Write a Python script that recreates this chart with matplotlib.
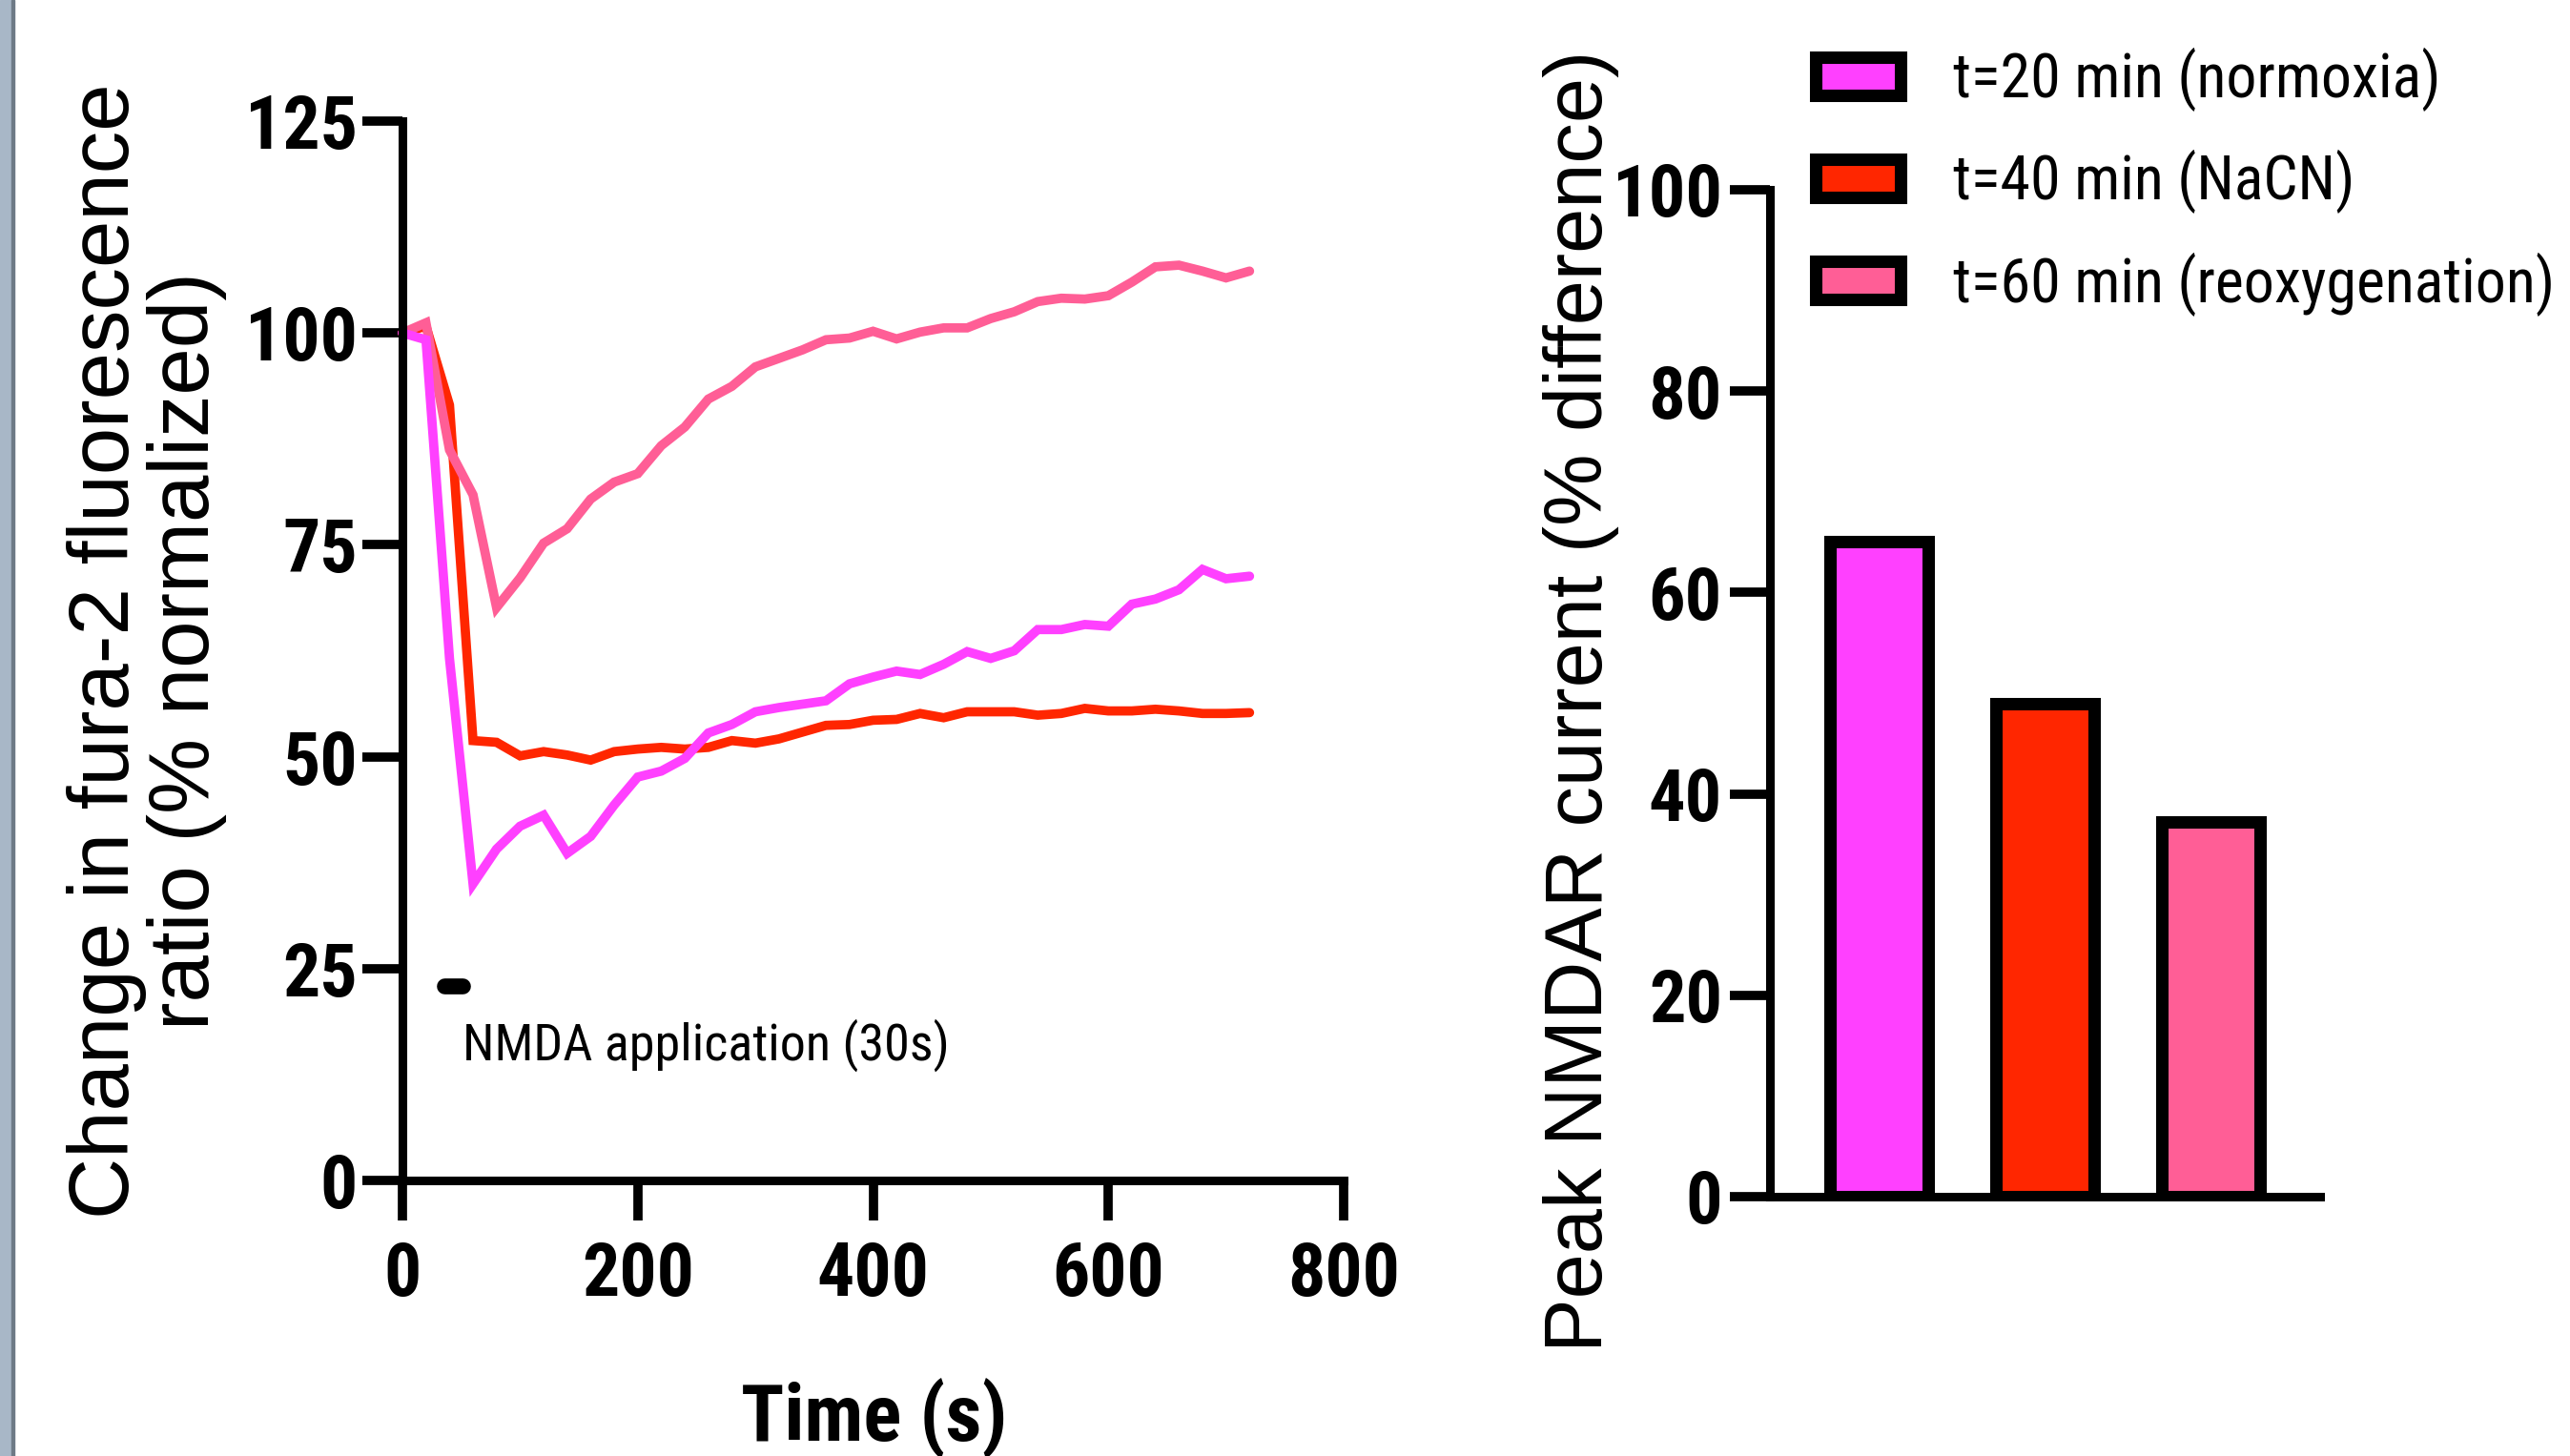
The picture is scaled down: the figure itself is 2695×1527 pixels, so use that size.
import matplotlib
matplotlib.use("Agg")
import matplotlib.pyplot as plt
from matplotlib import font_manager
from matplotlib.patches import Rectangle

# fura-2 ratio traces (% normalized), one sample every 20 s
time_s = [0, 20, 40, 60, 80, 100, 120, 140, 160, 180, 200, 220, 240,
          260, 280, 300, 320, 340, 360, 380, 400, 420, 440, 460, 480,
          500, 520, 540, 560, 580, 600, 620, 640, 660, 680, 700, 720]
normoxia = [100.0, 99.2, 61.6, 35.0, 39.1, 41.8, 43.1, 38.6, 40.6, 44.3, 47.6, 48.3, 49.8,
            52.8, 53.8, 55.3, 55.8, 56.2, 56.6, 58.6, 59.4, 60.1, 59.7, 60.9, 62.4,
            61.6, 62.5, 65.0, 65.0, 65.6, 65.4, 68.0, 68.6, 69.7, 72.1, 71.0, 71.3]
nacn = [100.0, 100.8, 91.5, 51.9, 51.7, 50.1, 50.6, 50.2, 49.6, 50.6, 50.9, 51.1, 50.9,
        51.1, 51.9, 51.6, 52.1, 52.9, 53.7, 53.8, 54.3, 54.4, 55.1, 54.6, 55.3,
        55.3, 55.3, 54.9, 55.1, 55.7, 55.4, 55.4, 55.6, 55.4, 55.1, 55.1, 55.2]
reoxy = [100.0, 101.2, 86.2, 80.9, 67.6, 71.1, 75.2, 76.9, 80.4, 82.4, 83.4, 86.7, 88.9,
         92.2, 93.7, 96.0, 97.0, 98.0, 99.2, 99.4, 100.2, 99.3, 100.1, 100.6, 100.6,
         101.7, 102.5, 103.7, 104.1, 104.0, 104.4, 106.0, 107.8, 108.0, 107.3, 106.5, 107.3]

# peak NMDAR current per condition
conditions = ["t=20 min (normoxia)", "t=40 min (NaCN)", "t=60 min (reoxygenation)"]
peak_current = [65.1, 49.0, 37.2]
colors = ["#FF40FF", "#FF2600", "#FF5E96"]

x_ticks = [0, 200, 400, 600, 800]
y_ticks_left = [0, 25, 50, 75, 100, 125]
y_ticks_right = [0, 20, 40, 60, 80, 100]

# condensed font for the horizontal texts
names = {f.name for f in font_manager.fontManager.ttflist}
narrow = "Roboto Condensed" if "Roboto Condensed" in names else "Liberation Sans"
regular = "Liberation Sans"
plt.rcParams["font.family"] = [narrow, "DejaVu Sans"]

W, H = 2695, 1527
fig = plt.figure(figsize=(W / 100, H / 100), dpi=100)

# grey window edge on the far left
fig.patches.append(Rectangle((0, 0), 12 / W, 1, transform=fig.transFigure,
                             color="#A8B7C7", zorder=0))
fig.patches.append(Rectangle((12 / W, 0), 3 / W, 1, transform=fig.transFigure,
                             color="#6E7A86", zorder=0))

# -----------------------------
# Left: fura-2 traces
# -----------------------------
ax1 = fig.add_axes([422 / W, 1 - 1238 / H, 987 / W, 1111 / H])
for y, c in [(nacn, colors[1]), (reoxy, colors[2]), (normoxia, colors[0])]:
    ax1.plot(time_s, y, color=c, lw=7, solid_capstyle="round",
             solid_joinstyle="miter", clip_on=False)

ax1.plot([36, 51], [23, 23], color="black", lw=12, solid_capstyle="round")
ax1.text(51, 14.2, "NMDA application (30s)", fontsize=39, va="baseline")

ax1.set_xlim(0, 800)
ax1.set_ylim(0, 125)
ax1.set_xticks(x_ticks)
ax1.set_xticklabels([str(v) for v in x_ticks], fontsize=56, fontweight="bold")
ax1.set_yticks(y_ticks_left)
ax1.set_yticklabels([str(v) for v in y_ticks_left], fontsize=56, fontweight="bold")
ax1.tick_params(direction="out", length=30, width=7)
ax1.tick_params(axis="x", pad=15)
ax1.tick_params(axis="y", pad=4)
for s in ["top", "right"]:
    ax1.spines[s].set_visible(False)
for s in ["left", "bottom"]:
    ax1.spines[s].set_linewidth(6.5)

ax1.set_xlabel("Time (s)", fontsize=60, fontweight="bold")
ax1.xaxis.set_label_coords(917 / W, 1 - 1444 / H, transform=fig.transFigure)
ax1.set_ylabel("Change in fura-2 fluorescence\nratio (% normalized)",
               fontsize=64, family=regular, linespacing=1.0)
ax1.yaxis.set_label_coords(238 / W, 1 - 683 / H, transform=fig.transFigure)

# -----------------------------
# Right: peak NMDAR current
# -----------------------------
ax2 = fig.add_axes([1856 / W, 1 - 1255 / H, 577 / W, 1056 / H])
bars = ax2.bar([1, 2, 3], peak_current, width=0.59, color=colors,
               edgecolor="black", linewidth=9.4)
ax2.set_xlim(0.34, 3.66)
ax2.set_ylim(0, 100)
ax2.set_xticks([])
ax2.set_yticks(y_ticks_right)
ax2.set_yticklabels([str(v) for v in y_ticks_right], fontsize=55, fontweight="bold")
ax2.tick_params(axis="y", direction="out", length=30, width=7, pad=6)
for s in ["top", "right"]:
    ax2.spines[s].set_visible(False)
for s in ["left", "bottom"]:
    ax2.spines[s].set_linewidth(6.5)
ax2.set_ylabel("Peak NMDAR current (% difference)", fontsize=61, family=regular)
ax2.yaxis.set_label_coords(1698 / W, 1 - 735 / H, transform=fig.transFigure)

fig.legend(bars, conditions, loc="upper left", bbox_to_anchor=(1904 / W, 1 - 50 / H),
           frameon=False, prop={"family": narrow, "size": 46},
           handlelength=1.4, handleheight=0.58, handletextpad=0.85,
           labelspacing=0.63, borderpad=0, borderaxespad=0)

fig.savefig("out.png", dpi=100)
plt.close(fig)
